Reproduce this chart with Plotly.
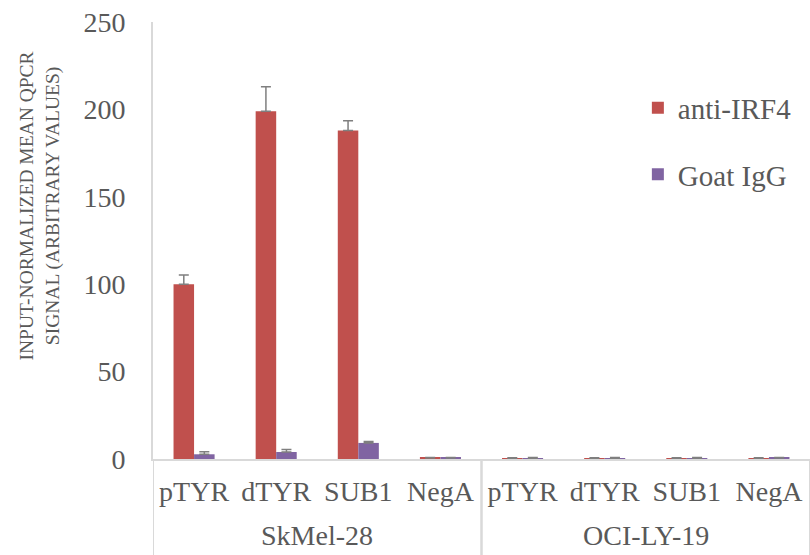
import plotly.graph_objects as go

groups = ["SkMel-28"] * 4 + ["OCI-LY-19"] * 4
targets = ["pTYR", "dTYR", "SUB1", "NegA"] * 2

irf4 = [100, 199, 188, 0.6, 0.5, 0.5, 0.5, 0.5]
irf4_err = [5.3, 14, 5.5, 0.2, 0.2, 0.2, 0.2, 0.2]
igg = [2.7, 4, 9.2, 0.6, 0.5, 0.5, 0.5, 0.6]
igg_err = [1.5, 1.5, 0.8, 0.3, 0.3, 0.3, 0.3, 0.3]

y_title = "INPUT-NORMALIZED MEAN QPCR<br>SIGNAL (ARBITRARY VALUES)"

font_family = "Liberation Serif, Times New Roman, serif"
text_color = "#595959"
err_color = "#7f7f7f"
line_color = "#d9d9d9"

keys = [f"{g}|{t}" for g, t in zip(groups, targets)]

fig = go.Figure()
fig.add_trace(go.Bar(
    x=keys, y=irf4, name="anti-IRF4",
    marker=dict(color="#C0504D", line=dict(width=0)),
    legendgroup="a",
    error_y=dict(type="data", symmetric=False, array=irf4_err,
                 arrayminus=[0] * 8, color=err_color, thickness=1.5, width=5),
))
fig.add_trace(go.Bar(
    x=keys, y=igg, name="Goat IgG",
    marker=dict(color="#8064A2", line=dict(width=0)),
    legendgroup="b",
    error_y=dict(type="data", symmetric=False, array=igg_err,
                 arrayminus=[0] * 8, color=err_color, thickness=1.5, width=5),
))

# group labels and dividers from the group list
annotations = [dict(
    text=y_title, textangle=-90, showarrow=False,
    xref="paper", yref="paper", x=-0.172, y=0.58,
    xanchor="center", yanchor="middle",
    font=dict(size=19.5, color=text_color, family=font_family),
)]
shapes = []
unique_groups = list(dict.fromkeys(groups))
for g in unique_groups:
    idx = [i for i, gg in enumerate(groups) if gg == g]
    center = (idx[0] + idx[-1]) / 2
    annotations.append(dict(
        text=g, showarrow=False, xref="x", yref="paper",
        x=center, y=-0.174, xanchor="center", yanchor="middle",
        font=dict(size=28, color=text_color, family=font_family),
    ))
    for b in (idx[0] - 0.5, idx[-1] + 0.5):
        shapes.append(dict(type="line", xref="x", yref="paper",
                           x0=b, x1=b, y0=0, y1=-0.25,
                           line=dict(color=line_color, width=2)))

fig.update_layout(
    width=810, height=555,
    margin=dict(l=153, r=0, t=22, b=96),
    paper_bgcolor="white", plot_bgcolor="white",
    barmode="group", bargap=0.5, bargroupgap=0,
    font=dict(family=font_family, color=text_color, size=28),
    showlegend=True,
    legend=dict(x=0.738, y=0.862, xanchor="left", yanchor="top",
                font=dict(size=29, color=text_color),
                tracegroupgap=26, bgcolor="rgba(0,0,0,0)"),
    xaxis=dict(
        type="category", tickvals=keys, ticktext=targets,
        range=[-0.5, len(keys) - 0.5],
        showline=True, linecolor=line_color, linewidth=2,
        tickfont=dict(size=28, color=text_color, family=font_family),
        ticklabelstandoff=6, automargin=False,
        showgrid=False, ticks="",
    ),
    yaxis=dict(
        range=[0, 250], tickvals=[0, 50, 100, 150, 200, 250],
        showline=True, linecolor=line_color, linewidth=2,
        showgrid=False, zeroline=False, ticks="",
        ticklabelstandoff=20, automargin=False,
        tickfont=dict(size=28, color=text_color, family=font_family),
    ),
    annotations=annotations,
    shapes=shapes,
)

fig.write_html("out.html")
